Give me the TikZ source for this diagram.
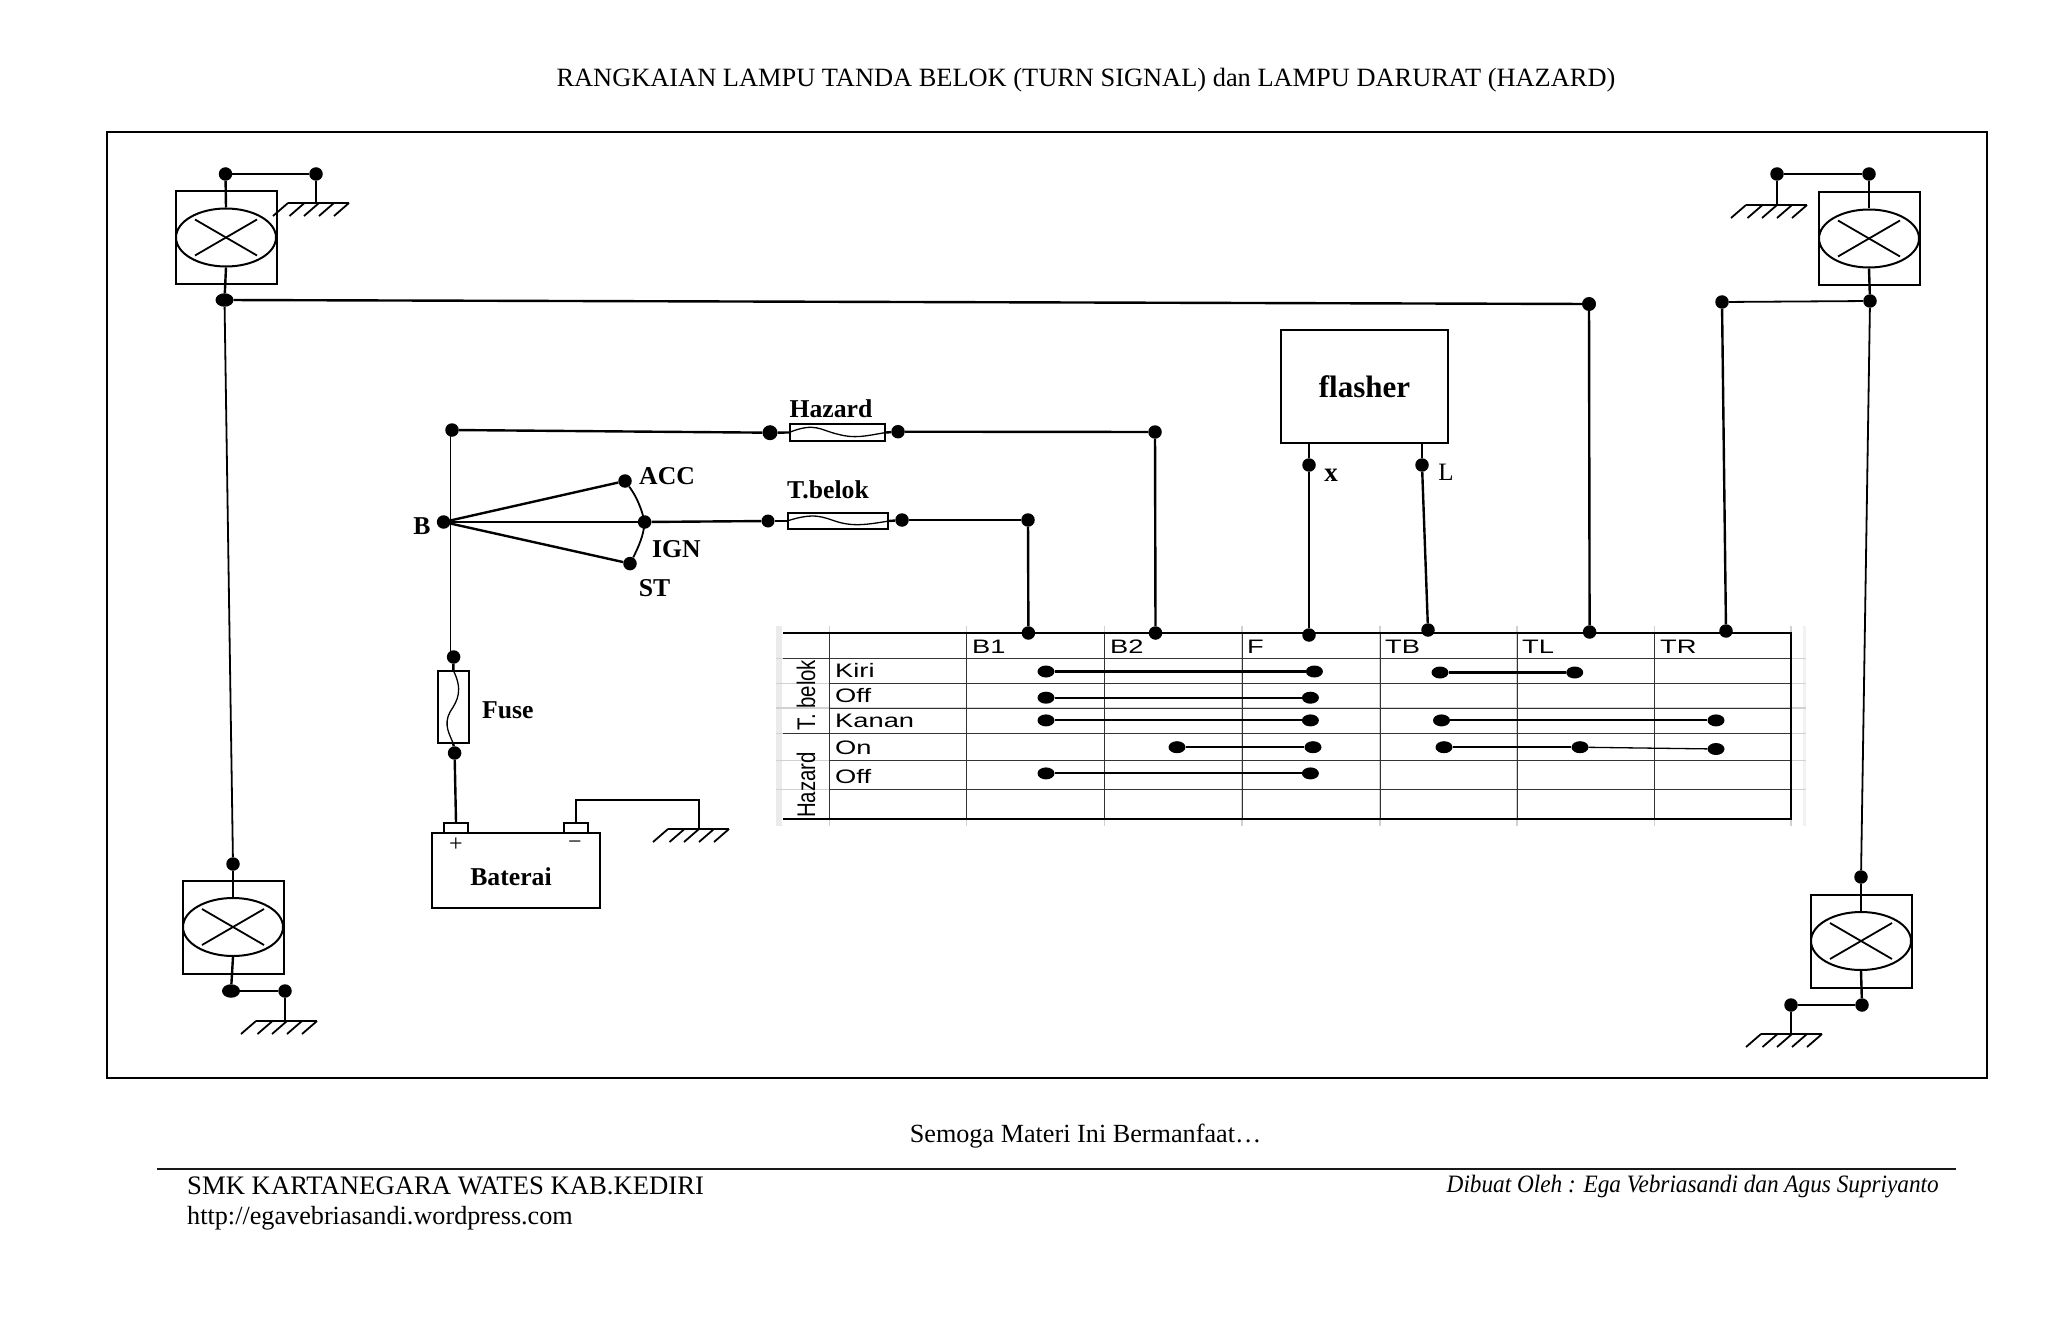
\documentclass[tikz,border=0pt]{standalone}
\usepackage{fontspec}
\setmainfont{Liberation Serif}
\newfontfamily\tabfont[FakeStretch=1.4]{Liberation Sans}
\newfontfamily\rotfont[FakeStretch=.8]{Liberation Sans}
\newfontfamily\madefont[FakeStretch=.93]{Liberation Serif}
\newcommand\pxfont[1]{\fontsize{#1}{#1}\selectfont}
\usetikzlibrary{shapes.geometric}
\tikzset{
  wire/.style={line width=2.4pt,black},
  thinwire/.style={line width=1.8pt,black},
  dot/.style={circle,fill=black,draw=none,inner sep=0pt,minimum size=13.5pt},
  blob/.style={ellipse,fill=black,draw=none,inner sep=0pt,minimum width=18pt,minimum height=13.5pt},
  tabdot/.style={ellipse,fill=black,draw=none,inner sep=0pt,minimum width=17pt,minimum height=12pt},
  boxn/.style={rectangle,draw=black,line width=2pt,inner sep=0pt,fill=white},
  lampglass/.style={ellipse,draw=black,line width=2pt,inner sep=0pt,minimum width=100pt,minimum height=58pt},
  lbl/.style={font=\bfseries\pxfont{25.7},inner sep=0pt},
  foot/.style={font=\pxfont{26.2},inner sep=0pt},
  tabtxt/.style={font=\tabfont\pxfont{19.5},inner sep=0pt,anchor=west},
  grid/.style={line width=1pt,black!80},
  stub/.style={line width=1.1pt,black!18},
  hatch/.style={line width=1.8pt,black},
}
\newcommand\groundsym[2]{%
  \draw[hatch] (#1,#2) -- ++(61,0);
  \foreach \hx in {0,16.5,31,46,61} {\draw[hatch] (#1+\hx,#2) -- ++(-15,13);}
}
\newcommand\lampsym[3]{%
  \node[boxn,minimum width=101pt,minimum height=93pt] (#1box) at (#2,#3) {};
  \node[lampglass] (#1) at (#2,#3) {};
  \draw[line width=1.8pt] (#2-31,#3-18) -- (#2+31,#3+18);
  \draw[line width=1.8pt] (#2-31,#3+18) -- (#2+31,#3-18);
}
\begin{document}
\begin{tikzpicture}[x=1pt,y=-1pt]
\useasboundingbox (0,0) rectangle (2048,1340);
% title and frame
\node[font=\pxfont{26.4},inner sep=0pt] (title) at (1086,80) {RANGKAIAN LAMPU TANDA BELOK (TURN SIGNAL) dan LAMPU DARURAT (HAZARD)};
\draw[line width=2.4pt] (107,132) rectangle (1987,1078);
% lamps
\lampsym{lampTL}{226}{237.5}
\lampsym{lampTR}{1869}{238.5}
\lampsym{lampBL}{233}{927}
\lampsym{lampBR}{1861}{941}
% top left
\node[dot] (tlA) at (225.5,174) {};
\node[dot] (tlB) at (316,174) {};
\node[blob] (tlC) at (224.5,300) {};
\coordinate (tlG) at (316,203);
\draw[wire] (tlA) -- (tlB);
\draw[wire] (tlA) -- (lampTL.north);
\draw[wire] (lampTL.south) -- (tlC);
\draw[thinwire] (tlB) -- (tlG);
\groundsym{288}{203}
% top right
\node[dot] (trA) at (1869,174) {};
\node[dot] (trB) at (1777,174) {};
\node[dot] (trC) at (1870,301) {};
\node[dot] (trD) at (1722,302) {};
\coordinate (trG) at (1777,205);
\draw[wire] (trA) -- (trB);
\draw[wire] (trA) -- (lampTR.north);
\draw[wire] (lampTR.south) -- (trC);
\draw[thinwire] (trC) -- (trD);
\draw[thinwire] (trB) -- (trG);
\groundsym{1746}{205}
% bottom left
\node[dot] (blA) at (233,864) {};
\node[blob] (blB) at (231,991) {};
\node[dot] (blC) at (285,991) {};
\coordinate (blG) at (285,1021);
\draw[wire] (blA) -- (lampBL.north);
\draw[wire] (lampBL.south) -- (blB);
\draw[wire] (blB) -- (blC);
\draw[thinwire] (blC) -- (blG);
\groundsym{256}{1021}
% bottom right
\node[dot] (brA) at (1861,877) {};
\node[dot] (brB) at (1862,1005) {};
\node[dot] (brC) at (1791,1005) {};
\coordinate (brG) at (1791,1034);
\draw[wire] (brA) -- (lampBR.north);
\draw[wire] (lampBR.south) -- (brB);
\draw[wire] (brB) -- (brC);
\draw[thinwire] (brC) -- (brG);
\groundsym{1761}{1034}
% long lamp wires
\draw[thinwire] (tlC) -- (blA);
\draw[thinwire] (trC) -- (brA);
% table pale margin and stubs
\fill[black!8] (776,626) rectangle (782,826);
\fill[black!5] (1803,626) rectangle (1806,826);
\foreach \cx in {829.6,966.9,1104.8,1242,1380,1517,1654.5,1791} {\draw[stub] (\cx,626) -- (\cx,826);}
\foreach \ry in {658.8,683.3,708,733.2,760.4,789.8} {\draw[stub] (776,\ry) -- (1806,\ry);}
% table grid
\foreach \ry in {658.8,733.2} {\draw[grid] (783,\ry) -- (1791,\ry);}
\foreach \ry in {683.3,708,760.4,789.8} {\draw[grid] (829.6,\ry) -- (1791,\ry);}
\foreach \cx in {829.6,966.9,1104.8,1242,1380,1517,1654.5} {\draw[grid] (\cx,633) -- (\cx,819);}
\draw[line width=2.6pt] (783,633) -- (1791,633) -- (1791,819) -- (783,819);
% table text
\foreach \cx/\ct in {972/B1,1110/B2,1247/F,1385/TB,1522/TL,1660/TR} {\node[tabtxt] (h\ct) at (\cx,647) {\ct};}
\node[tabtxt] (rKiri) at (835,670.5) {Kiri};
\node[tabtxt] (rOffA) at (835,696) {Off};
\node[tabtxt] (rKanan) at (835,720.5) {Kanan};
\node[tabtxt] (rOn) at (835,747.5) {On};
\node[tabtxt] (rOffB) at (835,777) {Off};
\node[font=\rotfont\pxfont{25.5},inner sep=0pt,rotate=90] (gT) at (806,695) {T. belok};
\node[font=\rotfont\pxfont{25.5},inner sep=0pt,rotate=90] (gH) at (806,785) {Hazard};
% table contacts
\foreach \n/\ax/\ay/\m/\bx/\by in {
  a/1046/671.5/b/1314.4/671.5, c/1440/672.5/d/1574.7/672.5,
  e/1046/697.7/f/1310.4/697.7, g/1046/720.4/h/1310.4/720.4,
  i/1441.5/720.4/j/1716/720.4, k/1177/747.2/l/1313/747.2,
  m/1444/747.2/o/1580/747.2, p/1046/773.4/q/1310.4/773.4} {
  \node[tabdot] (t\n) at (\ax,\ay) {};
  \node[tabdot] (t\m) at (\bx,\by) {};
  \draw[line width=2.1pt] (t\n) -- (t\m);
}
\node[tabdot] (tr) at (1716,749) {};
\draw[line width=1.3pt] (to) -- (tr);
% flasher
\node[rectangle,draw=black,line width=2pt,inner sep=0pt,minimum width=167pt,minimum height=113pt,font=\bfseries\pxfont{31}] (flasher) at (1364.5,386.5) {flasher};
\node[dot] (fx) at (1309,465) {};
\node[dot] (fL) at (1422,465) {};
\draw[wire] (fx) -- (fx|-flasher.south);
\draw[wire] (fL) -- (fL|-flasher.south);
\node[font=\bfseries\pxfont{27},inner sep=0pt] (lx) at (1331,475) {x};
\node[font=\pxfont{25},inner sep=0pt] (lL) at (1446,472) {L};
% table terminals
\node[dot] (cB1) at (1028.4,633) {};
\node[dot] (cB2) at (1155.5,633) {};
\node[dot] (cF) at (1309,635) {};
\node[dot] (cTB) at (1428,630) {};
\node[dot] (cTL) at (1589.6,632) {};
\node[dot] (cTR) at (1726,631) {};
\draw[wire] (fx) -- (cF);
\draw[wire] (fL) -- (cTB);
\node[dot,minimum size=14pt] (tlEnd) at (1589,304) {};
\draw[wire] (tlC) -- (tlEnd);
\draw[wire] (tlEnd) -- (cTL);
\draw[wire] (trD) -- (cTR);
% switch
\node[dot] (swB) at (443.6,522) {};
\node[dot] (swACC) at (625,481) {};
\node[dot] (swIGN) at (644.6,522) {};
\node[dot] (swST) at (630,563.6) {};
\node[dot] (pTop) at (452,430) {};
\node[dot] (pFuseA) at (453.6,657) {};
\node[dot] (pFuseB) at (454.6,753) {};
\coordinate (railTop) at (450.5,430);
\coordinate (railEnd) at (450.5,652);
\draw[wire] (swB) -- (swACC);
\draw[wire] (swB) -- (swIGN);
\draw[wire] (swB) -- (swST);
\draw[thinwire] (swACC) .. controls (637,497) and (642,510) .. (swIGN.center) .. controls (644,535) and (638,548) .. (swST);
\draw[thinwire] (railTop) -- (railEnd);
\node[lbl] (lB) at (422,526) {B};
\node[lbl,anchor=west] (lACC) at (639,476) {ACC};
\node[lbl,anchor=west] (lIGN) at (652,549) {IGN};
\node[lbl,anchor=west] (lST) at (638.6,588) {ST};
% hazard fuse
\node[dot,minimum size=15pt] (hzL) at (770,432.7) {};
\node[dot] (hzR) at (898,431.7) {};
\node[boxn,fill=none,minimum width=95pt,minimum height=17.6pt] (hzF) at (837.5,432.5) {};
\node[dot] (hzE) at (1155,432) {};
\draw[wire] (pTop) -- (hzL);
\draw[wire] (hzL) -- (hzF.west);
\draw[wire] (hzF.east) -- (hzR);
\draw[wire] (hzR) -- (hzE);
\draw[wire] (hzE) -- (cB2);
\draw[line width=1.3pt] (hzF.west) .. controls (815,422) and (820,430) .. (837,434) .. controls (855,439) and (865,436) .. (hzF.east);
\node[lbl] (lHz) at (831,409) {Hazard};
% turn fuse
\node[dot,minimum size=13pt] (tbL) at (768,521) {};
\node[dot] (tbR) at (902,520) {};
\node[boxn,fill=none,minimum width=100pt,minimum height=16.6pt] (tbF) at (838,521) {};
\node[dot] (tbE) at (1028,520) {};
\draw[wire] (swIGN) -- (tbL);
\draw[wire] (tbL) -- (tbF.west);
\draw[wire] (tbF.east) -- (tbR);
\draw[wire] (tbR) -- (tbE);
\draw[wire] (tbE) -- (cB1);
\draw[line width=1.3pt] (tbF.west) .. controls (815,512) and (822,517) .. (838,522) .. controls (855,527) and (870,524) .. (tbF.east);
\node[lbl] (lTb) at (828,490) {T.belok};
% main fuse
\node[boxn,fill=none,minimum width=30.6pt,minimum height=71.3pt] (mF) at (453.3,707) {};
\draw[wire] (pFuseA) -- (mF.north);
\draw[wire] (mF.south) -- (pFuseB);
\draw[line width=1.3pt] (mF.north) .. controls (463,690) and (458,700) .. (450,712) .. controls (443,725) and (450,735) .. (mF.south);
\node[lbl,anchor=west] (lFuse) at (482,710) {Fuse};
% battery
\node[boxn,minimum width=168pt,minimum height=75pt] (bat) at (516,870.5) {};
\node[boxn,minimum width=24pt,minimum height=10pt] (batP) at (456,828) {};
\node[boxn,minimum width=24pt,minimum height=10pt] (batN) at (576,828) {};
\node[font=\pxfont{24},inner sep=0pt] (plus) at (456,845) {+};
\node[font=\pxfont{24},inner sep=0pt] (minus) at (575,845) {\textminus};
\node[lbl] (lBat) at (511,877) {Baterai};
\draw[wire] (pFuseB) -- (batP.north);
\coordinate (gndN) at (699,829);
\draw[thinwire] (batN.north) -- (576,800) -- (699,800) -- (gndN);
\groundsym{668}{829}
% footer
\node[foot] (sem) at (1085.5,1136) {Semoga Materi Ini Bermanfaat…};
\draw[line width=2pt,black!90] (157,1169) -- (1956,1169);
\node[foot,font=\pxfont{26.7},anchor=west] (smk) at (187,1186) {SMK KARTANEGARA WATES KAB.KEDIRI};
\node[foot,anchor=west] (url) at (187,1218) {http://egavebriasandi.wordpress.com};
\node[font=\madefont\itshape\pxfont{25},inner sep=0pt,anchor=east] (made) at (1939,1187) {Dibuat Oleh : Ega Vebriasandi dan Agus Supriyanto};
\end{tikzpicture}
\end{document}
